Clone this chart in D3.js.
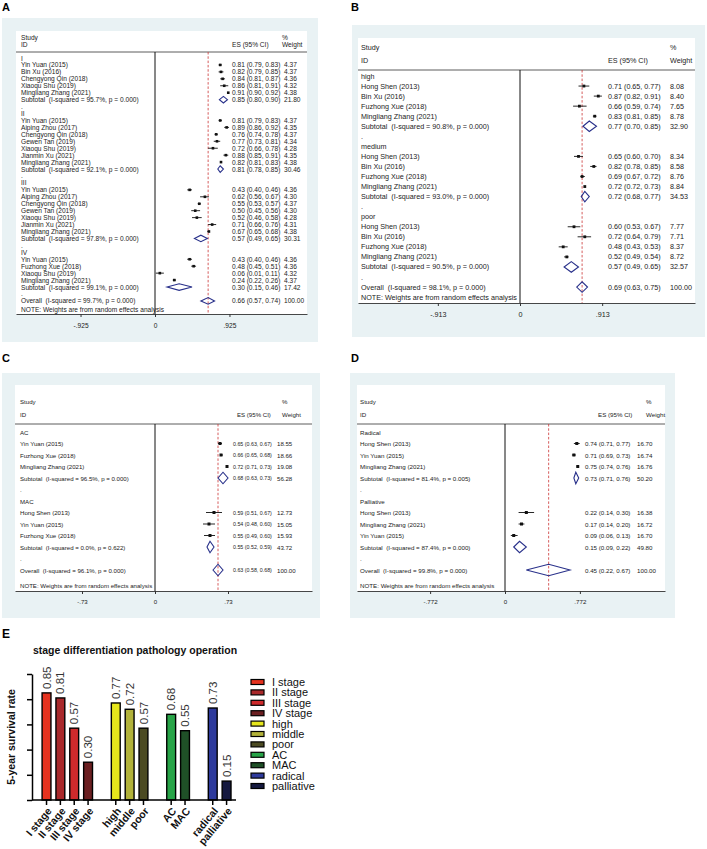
<!DOCTYPE html>
<html><head><meta charset="utf-8">
<script src="https://cdn.jsdelivr.net/npm/d3@7"></script>
<style>body{margin:0;background:#fff} svg{display:block;font-family:Arial,"Liberation Sans",sans-serif} .pre{white-space:pre}</style>
</head><body><svg id="c" width="707" height="849"></svg>
<script>
// ---------- Panel A: stage ----------
const aGroups = ["I","II","III","IV"];
const aStudies = [
 ["I","Yin Yuan (2015)",0.81,0.79,0.83,4.37],
 ["I","Bin Xu (2016)",0.82,0.79,0.85,4.37],
 ["I","Chengyong Qin (2018)",0.84,0.81,0.87,4.36],
 ["I","Xiaoqu Shu (2019)",0.86,0.81,0.91,4.32],
 ["I","Mingliang Zhang (2021)",0.91,0.90,0.92,4.38],
 ["II","Yin Yuan (2015)",0.81,0.79,0.83,4.37],
 ["II","Aiping Zhou (2017)",0.89,0.86,0.92,4.35],
 ["II","Chengyong Qin (2018)",0.76,0.74,0.78,4.37],
 ["II","Gewen Tan (2019)",0.77,0.73,0.81,4.34],
 ["II","Xiaoqu Shu (2019)",0.72,0.66,0.78,4.28],
 ["II","Jianmin Xu (2021)",0.88,0.85,0.91,4.35],
 ["II","Mingliang Zhang (2021)",0.82,0.81,0.83,4.38],
 ["III","Yin Yuan (2015)",0.43,0.40,0.46,4.36],
 ["III","Aiping Zhou (2017)",0.62,0.56,0.67,4.30],
 ["III","Chengyong Qin (2018)",0.55,0.53,0.57,4.37],
 ["III","Gewen Tan (2019)",0.50,0.45,0.56,4.30],
 ["III","Xiaoqu Shu (2019)",0.52,0.46,0.58,4.28],
 ["III","Jianmin Xu (2021)",0.71,0.66,0.76,4.31],
 ["III","Mingliang Zhang (2021)",0.67,0.65,0.68,4.38],
 ["IV","Yin Yuan (2015)",0.43,0.40,0.46,4.36],
 ["IV","Fuzhong Xue (2018)",0.48,0.45,0.51,4.36],
 ["IV","Xiaoqu Shu (2019)",0.06,0.01,0.11,4.32],
 ["IV","Mingliang Zhang (2021)",0.24,0.22,0.26,4.37]
];
const aSubtotals = [
 ["I","(I-squared = 95.7%, p = 0.000)",0.85,0.80,0.90,21.80],
 ["II","(I-squared = 92.1%, p = 0.000)",0.81,0.78,0.85,30.46],
 ["III","(I-squared = 97.8%, p = 0.000)",0.57,0.49,0.65,30.31],
 ["IV","(I-squared = 99.1%, p = 0.000)",0.30,0.15,0.46,17.42]
];
const aOverall = ["(I-squared = 99.7%, p = 0.000)",0.66,0.57,0.74,100.00];
const aTicks = [-0.925,0,0.925];
const aTickLabels = ["-.925","0",".925"];

// ---------- Panel B: differentiation ----------
const bGroups = ["high","medium","poor"];
const bStudies = [
 ["high","Hong Shen (2013)",0.71,0.65,0.77,8.08],
 ["high","Bin Xu (2016)",0.87,0.82,0.91,8.40],
 ["high","Fuzhong Xue (2018)",0.66,0.59,0.74,7.65],
 ["high","Mingliang Zhang (2021)",0.83,0.81,0.85,8.78],
 ["medium","Hong Shen (2013)",0.65,0.60,0.70,8.34],
 ["medium","Bin Xu (2016)",0.82,0.78,0.85,8.58],
 ["medium","Fuzhong Xue (2018)",0.69,0.67,0.72,8.76],
 ["medium","Mingliang Zhang (2021)",0.72,0.72,0.73,8.84],
 ["poor","Hong Shen (2013)",0.60,0.53,0.67,7.77],
 ["poor","Bin Xu (2016)",0.72,0.64,0.79,7.71],
 ["poor","Fuzhong Xue (2018)",0.48,0.43,0.53,8.37],
 ["poor","Mingliang Zhang (2021)",0.52,0.49,0.54,8.72]
];
const bSubtotals = [
 ["high","(I-squared = 90.8%, p = 0.000)",0.77,0.70,0.85,32.90],
 ["medium","(I-squared = 93.0%, p = 0.000)",0.72,0.68,0.77,34.53],
 ["poor","(I-squared = 90.5%, p = 0.000)",0.57,0.49,0.65,32.57]
];
const bOverall = ["(I-squared = 98.1%, p = 0.000)",0.69,0.63,0.75,100.00];
const bTicks = [-0.913,0,0.913];
const bTickLabels = ["-.913","0",".913"];

// ---------- Panel C: pathology ----------
const cGroups = ["AC","MAC"];
const cStudies = [
 ["AC","Yin Yuan (2015)",0.65,0.63,0.67,18.55],
 ["AC","Fuzhong Xue (2018)",0.66,0.65,0.68,18.66],
 ["AC","Mingliang Zhang (2021)",0.72,0.71,0.73,19.08],
 ["MAC","Hong Shen (2013)",0.59,0.51,0.67,12.73],
 ["MAC","Yin Yuan (2015)",0.54,0.48,0.60,15.05],
 ["MAC","Fuzhong Xue (2018)",0.55,0.49,0.60,15.93]
];
const cSubtotals = [
 ["AC","(I-squared = 96.5%, p = 0.000)",0.68,0.63,0.73,56.28],
 ["MAC","(I-squared = 0.0%, p = 0.622)",0.55,0.52,0.59,43.72]
];
const cOverall = ["(I-squared = 96.1%, p = 0.000)",0.63,0.58,0.68,100.00];
const cTicks = [-0.73,0,0.73];
const cTickLabels = ["-.73","0",".73"];

// ---------- Panel D: operation ----------
const dGroups = ["Radical","Palliative"];
const dStudies = [
 ["Radical","Hong Shen (2013)",0.74,0.71,0.77,16.70],
 ["Radical","Yin Yuan (2015)",0.71,0.69,0.73,16.74],
 ["Radical","Mingliang Zhang (2021)",0.75,0.74,0.76,16.76],
 ["Palliative","Hong Shen (2013)",0.22,0.14,0.30,16.38],
 ["Palliative","Mingliang Zhang (2021)",0.17,0.14,0.20,16.72],
 ["Palliative","Yin Yuan (2015)",0.09,0.06,0.13,16.70]
];
const dSubtotals = [
 ["Radical","(I-squared = 81.4%, p = 0.005)",0.73,0.71,0.76,50.20],
 ["Palliative","(I-squared = 87.4%, p = 0.000)",0.15,0.09,0.22,49.80]
];
const dOverall = ["(I-squared = 99.8%, p = 0.000)",0.45,0.22,0.67,100.00];
const dTicks = [-0.772,0,0.772];
const dTickLabels = ["-.772","0",".772"];

// ---------- Panel E: bar chart ----------
const barCategories = ["I stage","II stage","III stage","IV stage","high","middle","poor","AC","MAC","radical","palliative"];
const barGroups = ["stage","stage","stage","stage","differentiation","differentiation","differentiation","pathology","pathology","operation","operation"];
const barValues = [0.85,0.81,0.57,0.30,0.77,0.72,0.57,0.68,0.55,0.73,0.15];
const barColors = ["#e5321f","#a9292b","#cf2a2c","#6b1f21","#e6e61c","#b2b23a","#4b4a22","#28a448","#1f5027","#2e3a9c","#15193f"];
const yTicksE = [0,0.2,0.4,0.6,0.8,1.0];

const svg = d3.select("#c");
const f2 = d3.format(".2f");
const BLUE_BG = "#e9f2f4", TXT = "#222", DIAM = "#28308a", RED = "#cc3333";

function forest(cfg, groups, studies, subs, overall, ticks, tickLabels) {
  const g = svg.append("g").style("font-size", cfg.font + "px").attr("fill", TXT);
  g.append("rect").attr("x", cfg.blue[0]).attr("y", cfg.blue[1])
    .attr("width", cfg.blue[2]-cfg.blue[0]).attr("height", cfg.blue[3]-cfg.blue[1]).attr("fill", BLUE_BG);
  g.append("rect").attr("x", cfg.white[0]).attr("y", cfg.white[1])
    .attr("width", cfg.white[2]-cfg.white[0]).attr("height", cfg.axisY-cfg.white[1]).attr("fill", "#fff");

  const rows = [];
  groups.forEach(gr => {
    rows.push({type:"group", label:gr});
    studies.filter(s => s[0]===gr).forEach(s => rows.push({type:"study", label:s[1], es:s[2], lo:s[3], hi:s[4], w:s[5]}));
    const sb = subs.find(s => s[0]===gr);
    rows.push({type:"sub", label:"Subtotal  "+sb[1], es:sb[2], lo:sb[3], hi:sb[4], w:sb[5]});
    rows.push({type:"dot", label:"."});
  });
  rows.push({type:"overall", label:"Overall  "+overall[0], es:overall[1], lo:overall[2], hi:overall[3], w:overall[4]});

  const yRow = d3.scaleLinear().domain([0,1]).range([cfg.row0, cfg.row0+cfg.step]);
  const x0 = d3.scaleLinear().domain([0,1]).range([cfg.zeroX, cfg.zeroX+cfg.unit]);
  const x = d3.scaleLinear().domain([x0.invert(cfg.white[0]), x0.invert(cfg.white[2])]).range([cfg.white[0], cfg.white[2]]);
  const esFont = cfg.esFont || cfg.font;

  // header
  g.append("text").attr("x", cfg.studyX).attr("y", cfg.hdr1).attr("dominant-baseline","central").text("Study");
  g.append("text").attr("x", cfg.studyX).attr("y", cfg.hdr2).attr("dominant-baseline","central").text("ID");
  g.append("text").attr("x", cfg.esHdrX).attr("y", cfg.hdr2).attr("dominant-baseline","central").text("ES (95% CI)");
  g.append("text").attr("x", cfg.pctX).attr("y", cfg.hdr1).attr("dominant-baseline","central").text("%");
  g.append("text").attr("x", cfg.pctX).attr("y", cfg.hdr2).attr("dominant-baseline","central").text("Weight");
  g.append("line").attr("x1", cfg.white[0]).attr("x2", cfg.white[2]).attr("y1", cfg.hline).attr("y2", cfg.hline)
    .attr("stroke", "#333").attr("stroke-width", 0.8);

  // zero line & overall dashed line
  g.append("line").attr("x1", x(0)).attr("x2", x(0)).attr("y1", cfg.hline).attr("y2", cfg.axisY)
    .attr("stroke", "#111").attr("stroke-width", 1);
  g.append("line").attr("x1", x(overall[1])).attr("x2", x(overall[1])).attr("y1", cfg.hline).attr("y2", cfg.axisY)
    .attr("stroke", RED).attr("stroke-width", 0.8).attr("stroke-dasharray", "2.5,1.8");

  // row labels
  g.selectAll("text.lbl").data(rows).join("text").attr("class","lbl pre")
    .attr("x", cfg.studyX).attr("y", (d,i) => yRow(i)).attr("dominant-baseline","central").text(d => d.label);
  const est = rows.map((d,i) => ({...d, i})).filter(d => d.es !== undefined);
  g.selectAll("text.es").data(est).join("text").attr("class","es")
    .attr("x", cfg.esX).attr("y", d => yRow(d.i)).attr("dominant-baseline","central").style("font-size", esFont + "px")
    .text(d => `${f2(d.es)} (${f2(d.lo)}, ${f2(d.hi)})`);
  g.selectAll("text.wt").data(est).join("text").attr("class","wt")
    .attr("x", cfg.wX).attr("y", d => yRow(d.i)).attr("dominant-baseline","central")
    .text(d => f2(d.w));

  // studies: CI + square
  const st = est.filter(d => d.type==="study");
  g.selectAll("line.ci").data(st).join("line").attr("class","ci")
    .attr("x1", d => x(d.lo)).attr("x2", d => x(d.hi)).attr("y1", d => yRow(d.i)).attr("y2", d => yRow(d.i))
    .attr("stroke", "#111").attr("stroke-width", 0.9);
  g.selectAll("rect.pt").data(st).join("rect").attr("class","pt")
    .attr("x", d => x(d.es) - cfg.box/2).attr("y", d => yRow(d.i) - cfg.box/2)
    .attr("width", cfg.box).attr("height", cfg.box).attr("fill", "#111");

  // diamonds
  const dm = est.filter(d => d.type!=="study");
  const h = cfg.step * cfg.dh / 2;
  g.selectAll("path.dm").data(dm).join("path").attr("class","dm")
    .attr("d", d => { const y = yRow(d.i); return `M${x(d.lo)},${y}L${x(d.es)},${y-h}L${x(d.hi)},${y}L${x(d.es)},${y+h}Z`; })
    .attr("fill", "none").attr("stroke", DIAM).attr("stroke-width", 1.1);

  // note
  g.append("text").attr("x", cfg.studyX).attr("y", cfg.noteY).attr("dominant-baseline","central")
    .text("NOTE: Weights are from random effects analysis");

  // axis
  const ax = g.append("g").attr("transform", `translate(0,${cfg.axisY})`)
    .call(d3.axisBottom(x).tickValues(ticks).tickFormat((d,i) => tickLabels[i]).tickSize(3).tickSizeOuter(0));
  ax.select(".domain").attr("stroke", "#333").attr("stroke-width", 0.9);
  ax.selectAll(".tick line").attr("stroke", "#333");
  ax.selectAll(".tick text").attr("fill", TXT).style("font-size", cfg.font + "px").style("font-family", "Arial, 'Liberation Sans', sans-serif")
    .attr("y", cfg.tickY - cfg.axisY).attr("dy", 0).attr("dominant-baseline","central");

  svg.append("text").attr("x", cfg.letter[0]).attr("y", cfg.letter[1]).attr("font-weight","bold")
    .style("font-size","11px").attr("fill","#000").text(cfg.name);
}

forest({name:"A", letter:[2,11], blue:[2,18,318,342], white:[16,31,307], axisY:314, tickY:325, font:6.6,
  studyX:21, hdr1:37, hdr2:44, esHdrX:232, pctX:282, hline:52, row0:58, step:6.94, noteY:309,
  zeroX:155, unit:80.5, esX:232, wX:284, box:2.6, dh:0.95}, aGroups, aStudies, aSubtotals, aOverall, aTicks, aTickLabels);

forest({name:"B", letter:[351,11], blue:[352,25,705,337], white:[358,38,695], axisY:303, tickY:314, font:7.2,
  studyX:361, hdr1:47, hdr2:60, esHdrX:608, pctX:670, hline:70, row0:76, step:10.05, noteY:297,
  zeroX:520, unit:90, esX:608, wX:670, box:2.8, dh:1.05}, bGroups, bStudies, bSubtotals, bOverall, bTicks, bTickLabels);

forest({name:"C", letter:[2,362], blue:[2,373,320,618], white:[15,385,312], axisY:591, tickY:601, font:6.1, esFont:5.3,
  studyX:20, hdr1:401, hdr2:414, esHdrX:237, pctX:282, hline:424, row0:432, step:11.5, noteY:585,
  zeroX:155, unit:100, esX:233, wX:277, box:3, dh:1.0}, cGroups, cStudies, cSubtotals, cOverall, cTicks, cTickLabels);

forest({name:"D", letter:[351,362], blue:[350,373,675,618], white:[357,385,665], axisY:591, tickY:601, font:6.2,
  studyX:360, hdr1:401, hdr2:414, esHdrX:598, pctX:646, hline:424, row0:432, step:11.5, noteY:585,
  zeroX:505, unit:97, esX:585, wX:637, box:3, dh:1.0}, dGroups, dStudies, dSubtotals, dOverall, dTicks, dTickLabels);

// ---------- Panel E ----------
(function(){
  const g = svg.append("g");
  svg.append("text").attr("x", 2).attr("y", 638).attr("font-weight","bold").style("font-size","12px").text("E");
  g.append("text").attr("x", 135).attr("y", 654).attr("text-anchor","middle").attr("font-weight","bold")
    .style("font-size","10.5px").attr("fill","#111").text("stage differentiation pathology operation");

  const slots = [];
  barCategories.forEach((c,i) => { if (i>0 && barGroups[i]!==barGroups[i-1]) slots.push("gap"+i); slots.push(c); });
  const x = d3.scaleBand().domain(slots).range([39.6, 233.5]).paddingInner(0.36).paddingOuter(0.18);
  const y = d3.scaleLinear().domain([0,1]).range([800, 674]);

  const data = barCategories.map((c,i) => ({c, v:barValues[i], col:barColors[i]}));
  g.selectAll("rect.bar").data(data).join("rect").attr("class","bar")
    .attr("x", d => x(d.c)).attr("width", x.bandwidth())
    .attr("y", d => y(d.v)).attr("height", d => y(0)-y(d.v))
    .attr("fill", d => d.col).attr("stroke", "#000").attr("stroke-width", 1.4);

  g.selectAll("text.val").data(data).join("text").attr("class","val")
    .attr("transform", d => `translate(${x(d.c)+x.bandwidth()/2},${y(d.v)-4}) rotate(-90)`)
    .attr("dy","0.35em").style("font-size","11.5px").attr("fill","#333").text(d => f2(d.v));

  const ya = g.append("g").attr("transform","translate(32,0)")
    .call(d3.axisLeft(y).tickValues(yTicksE).tickFormat("").tickSize(5).tickSizeOuter(0));
  ya.selectAll("path,line").attr("stroke","#000").attr("stroke-width",1.5);

  const xa = g.append("g").attr("transform","translate(0,800)")
    .call(d3.axisBottom(x).tickValues(barCategories).tickFormat("").tickSize(5).tickSizeOuter(0));
  xa.select(".domain").remove();
  xa.selectAll("line").attr("stroke","#000").attr("stroke-width",1.5);
  g.append("line").attr("x1",32).attr("x2",236).attr("y1",800).attr("y2",800).attr("stroke","#000").attr("stroke-width",1.5);

  g.selectAll("text.cat").data(barCategories).join("text").attr("class","cat")
    .attr("transform", d => `translate(${x(d)+x.bandwidth()/2+3},${809}) rotate(-50)`)
    .attr("text-anchor","end").attr("dy","0.35em").attr("font-weight","bold").style("font-size","10.5px").attr("fill","#111").text(d => d);

  g.append("text").attr("transform","translate(15,737) rotate(-90)").attr("text-anchor","middle")
    .attr("font-weight","bold").style("font-size","10.5px").attr("fill","#111").text("5-year survival rate");

  const ly = d3.scaleLinear().domain([0,1]).range([682, 692.4]);
  const lg = g.selectAll("g.leg").data(data).join("g").attr("class","leg")
    .attr("transform", (d,i) => `translate(251,${ly(i)})`);
  lg.append("rect").attr("x",0).attr("y",-2.5).attr("width",13).attr("height",5).attr("fill", d => d.col).attr("stroke","#000").attr("stroke-width",1.2);
  lg.append("text").attr("x",21).attr("y",0).attr("dominant-baseline","central").style("font-size","11px").attr("fill","#111").text(d => d.c);
})();
</script></body></html>
